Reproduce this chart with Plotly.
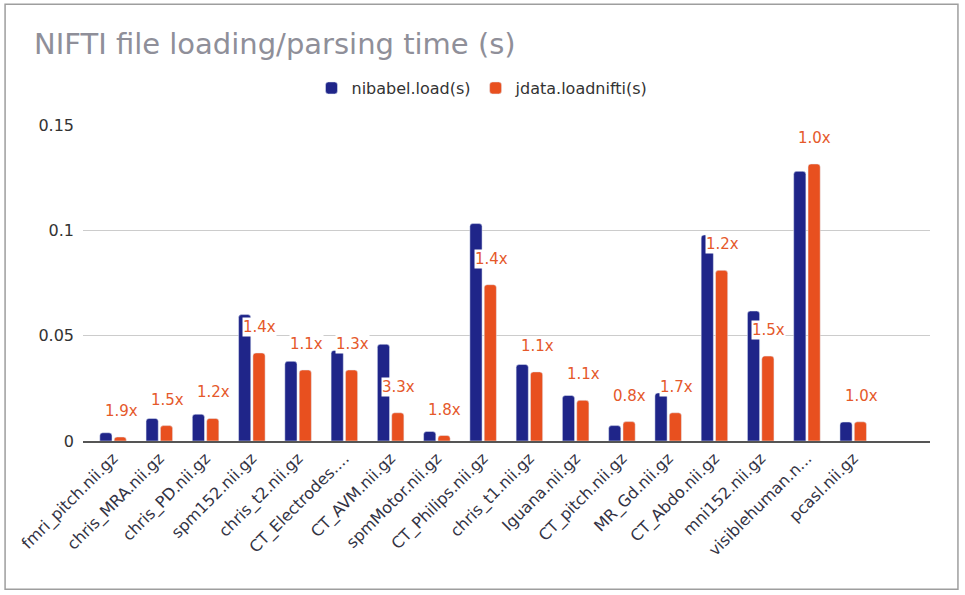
import plotly.graph_objects as go

files = ["fmri_pitch.nii.gz", "chris_MRA.nii.gz", "chris_PD.nii.gz", "spm152.nii.gz",
         "chris_t2.nii.gz", "CT_Electrodes....", "CT_AVM.nii.gz", "spmMotor.nii.gz",
         "CT_Philips.nii.gz", "chris_t1.nii.gz", "Iguana.nii.gz", "CT_pitch.nii.gz",
         "MR_Gd.nii.gz", "CT_Abdo.nii.gz", "mni152.nii.gz", "visiblehuman.n...",
         "pcasl.nii.gz"]
nibabel_load = [0.0039, 0.0107, 0.0127, 0.0600, 0.0378, 0.0430, 0.0459, 0.0045,
                0.1032, 0.0363, 0.0216, 0.0073, 0.0228, 0.0978, 0.0617, 0.1280,
                0.0090]
jdata_load = [0.0019, 0.0073, 0.0107, 0.0418, 0.0337, 0.0337, 0.0134, 0.0026,
              0.0742, 0.0328, 0.0193, 0.0092, 0.0134, 0.0810, 0.0403, 0.1315,
              0.0091]
speedup = ["1.9x", "1.5x", "1.2x", "1.4x", "1.1x", "1.3x", "3.3x", "1.8x", "1.4x",
           "1.1x", "1.1x", "0.8x", "1.7x", "1.2x", "1.5x", "1.0x", "1.0x"]

BLUE = "#1f2589"
ORANGE = "#e8501f"
FONT = "DejaVu Sans"

fig = go.Figure()
fig.add_trace(go.Bar(x=files, y=nibabel_load, name="nibabel.load(s)",
                     marker=dict(color=BLUE, cornerradius=3)))
fig.add_trace(go.Bar(x=files, y=jdata_load, name="jdata.loadnifti(s)",
                     marker=dict(color=ORANGE, cornerradius=3)))

# speedup labels sit above the orange bars
for f, v, s in zip(files, jdata_load, speedup):
    fig.add_annotation(x=f, y=v, text=s, showarrow=False, xshift=8, yshift=26,
                       yanchor="middle", bgcolor="white", borderpad=0,
                       font=dict(family=FONT, size=15, color="#e5592b"))

# chart border
fig.add_shape(type="rect", xref="paper", yref="paper",
              x0=-0.092, x1=1.033, y0=-0.469, y1=1.382,
              line=dict(color="#9e9e9e", width=1.5), layer="below")

fig.update_layout(
    width=965, height=595,
    margin=dict(l=83, r=35, t=125, b=153.5),
    paper_bgcolor="white", plot_bgcolor="white",
    font=dict(family=FONT, color="#333333"),
    title=dict(text="NIFTI file loading/parsing time (s)", x=34 / 965, xanchor="left",
               y=1 - 44 / 595, yanchor="middle",
               font=dict(family=FONT, size=29, color="#8f8f99")),
    legend=dict(orientation="h", x=(482.5 - 83) / 847, xanchor="center",
                y=1 + 37 / 316.5, yanchor="middle",
                font=dict(family=FONT, size=16, color="#333333"),
                itemwidth=30),
    barmode="group", bargap=0.38, bargroupgap=0.15,
    showlegend=True,
)
fig.update_xaxes(range=[-0.65, 17.66], tickangle=-45, showgrid=False,
                 showline=True, linecolor="#555555", linewidth=1.5,
                 tickfont=dict(family=FONT, size=16, color="#333344"), ticks="")
fig.update_yaxes(range=[0, 0.15], tickvals=[0, 0.05, 0.1, 0.15],
                 ticktext=["0", "0.05", "0.1", "0.15"], showgrid=True,
                 gridcolor="#cccccc", gridwidth=1, zeroline=False,
                 tickfont=dict(family=FONT, size=16, color="#333333"), ticks="",
                 ticklabelstandoff=8)

fig.write_html("out.html", config={"displayModeBar": False},
               post_script="document.body.style.margin='0';")
